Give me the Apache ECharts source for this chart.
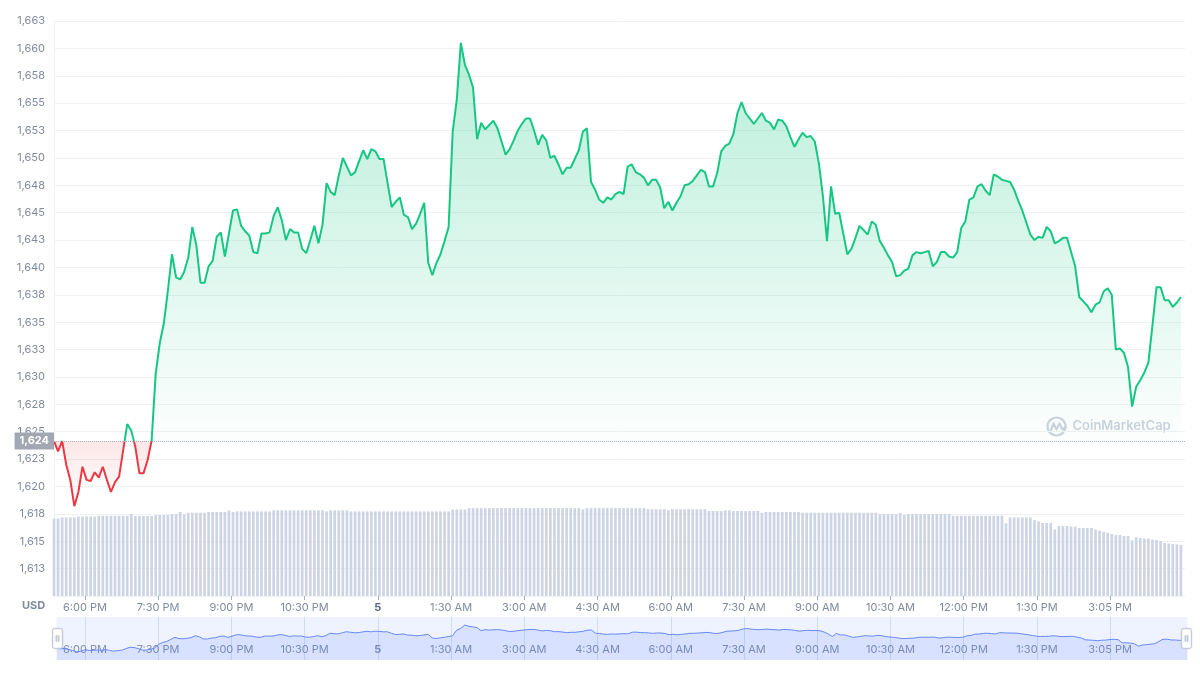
<!DOCTYPE html>
<html><head><meta charset="utf-8">
<script src="https://cdn.jsdelivr.net/npm/echarts@6/dist/echarts.min.js"></script>
<style>html,body{margin:0;padding:0;background:#fff}#c{width:1200px;height:675px}</style>
</head><body><div id="c"></div>
<script>
// time of first point, minutes after midnight of day 4 (5:22 PM), 5-minute samples
const startMinute = 1042;
const stepMinutes = 5;

// ETH price in USD
const prices = [
1624.15,1623.2,1624.15,1622.0,1620.6,1618.2,1619.5,1621.8,1620.6,1620.5,
1621.3,1620.8,1621.8,1620.6,1619.5,1620.4,1620.9,1623.3,1625.7,1625.1,
1623.6,1621.2,1621.2,1622.4,1624.2,1630.3,1633.1,1634.9,1637.9,1641.2,
1639.1,1638.9,1639.6,1640.9,1643.7,1642.0,1638.6,1638.6,1640.1,1640.6,
1642.8,1643.2,1641.0,1643.1,1645.2,1645.3,1643.8,1643.3,1642.9,1641.4,
1641.3,1643.1,1643.1,1643.2,1644.7,1645.5,1644.3,1642.5,1643.5,1643.2,
1643.2,1641.7,1641.3,1642.5,1643.8,1642.2,1643.9,1647.7,1646.9,1646.6,
1648.4,1650.0,1649.2,1648.4,1648.7,1649.7,1650.7,1649.9,1650.8,1650.6,
1649.9,1649.9,1647.7,1645.5,1646.0,1646.4,1644.8,1644.6,1643.5,1644.0,
1644.9,1645.9,1640.4,1639.3,1640.4,1641.2,1642.4,1643.7,1652.4,1655.3,
1660.5,1658.5,1657.6,1656.4,1651.7,1653.2,1652.6,1653.0,1653.4,1652.7,
1651.5,1650.3,1650.8,1651.6,1652.5,1653.1,1653.6,1653.6,1652.5,1651.2,
1652.1,1651.6,1650.0,1650.2,1649.4,1648.5,1649.1,1649.1,1649.9,1650.7,
1652.4,1652.7,1647.8,1647.1,1646.2,1645.9,1646.4,1646.2,1646.7,1646.9,
1646.7,1649.2,1649.4,1648.7,1648.5,1648.2,1647.5,1648.0,1648.0,1647.3,
1645.4,1646.0,1645.2,1645.9,1646.5,1647.5,1647.6,1647.9,1648.4,1648.9,
1648.7,1647.4,1647.4,1648.6,1650.6,1651.1,1651.3,1652.2,1654.1,1655.1,
1654.1,1653.6,1653.1,1653.6,1654.1,1653.4,1653.2,1652.6,1653.5,1653.4,
1652.9,1651.9,1651.0,1651.7,1652.3,1651.9,1652.0,1651.5,1649.5,1646.5,
1642.4,1647.4,1644.9,1645.0,1643.1,1641.2,1641.7,1642.7,1643.8,1643.4,
1643.0,1644.2,1643.9,1642.4,1641.8,1641.1,1640.5,1639.2,1639.3,1639.7,
1639.9,1641.1,1641.4,1641.3,1641.4,1641.5,1640.1,1640.5,1641.4,1641.4,
1641.0,1640.9,1641.4,1643.6,1644.2,1646.2,1646.4,1647.4,1647.6,1647.0,
1646.6,1648.5,1648.3,1648.0,1647.9,1647.8,1647.1,1646.1,1645.2,1644.1,
1643.0,1642.5,1642.8,1642.7,1643.7,1643.3,1642.2,1642.4,1642.7,1642.7,
1641.4,1640.1,1637.3,1636.9,1636.5,1635.9,1636.6,1636.8,1637.8,1638.1,
1637.5,1632.5,1632.6,1632.2,1630.9,1627.3,1629.1,1629.7,1630.4,1631.3,
1634.7,1638.2,1638.2,1637.0,1637.0,1636.4,1636.8,1637.3
];

// 24h volume, billions USD
const volumes = [
16.15,16.15,16.38,16.38,16.38,16.38,16.59,16.59,16.59,16.59,
16.59,16.76,16.76,16.76,16.76,16.76,16.76,16.76,16.76,17.11,
16.69,16.69,16.69,16.69,16.69,16.90,16.90,16.90,16.90,17.11,
17.11,17.53,17.05,17.36,17.36,17.36,17.36,17.36,17.53,17.53,
17.53,17.53,17.53,17.82,17.53,17.65,17.65,17.65,17.65,17.65,
17.65,17.65,17.65,17.65,17.88,17.88,17.88,17.88,17.88,17.88,
17.88,17.88,17.88,17.88,17.88,17.88,17.88,17.65,17.88,17.88,
17.88,17.88,17.88,17.65,17.65,17.65,17.65,17.65,17.65,17.65,
17.65,17.65,17.65,17.65,17.65,17.65,17.65,17.65,17.65,17.65,
17.65,17.65,17.65,17.65,17.65,17.65,17.65,17.65,18.05,18.05,
18.05,18.05,18.34,18.34,18.34,18.34,18.34,18.34,18.34,18.34,
18.34,18.34,18.34,18.34,18.34,18.34,18.34,18.34,18.34,18.34,
18.34,18.34,18.34,18.34,18.34,18.34,18.34,18.34,18.34,18.34,
18.05,18.34,18.34,18.34,18.34,18.34,18.34,18.34,18.34,18.34,
18.34,18.34,18.34,18.34,18.34,18.34,18.11,18.11,18.11,18.11,
18.11,17.88,18.11,18.11,18.11,18.11,18.11,18.11,18.11,18.11,
18.11,17.74,17.74,17.74,17.74,17.88,17.88,17.74,17.74,17.74,
17.74,17.74,17.74,17.74,17.36,17.53,17.53,17.53,17.53,17.53,
17.53,17.53,17.53,17.53,17.36,17.36,17.36,17.36,17.36,17.36,
17.36,17.36,17.36,17.36,17.36,17.36,17.36,17.36,17.36,17.36,
17.36,17.36,17.36,17.11,17.11,17.11,17.11,17.11,17.36,16.90,
17.11,17.11,17.11,17.11,17.11,17.11,17.11,17.11,17.11,17.11,
17.11,16.76,16.76,16.76,16.76,16.76,16.76,16.76,16.76,16.76,
16.76,16.76,16.76,16.76,15.15,16.38,16.38,16.38,16.38,16.38,
16.38,15.86,15.55,15.23,15.23,15.23,13.88,14.61,14.61,14.61,
14.48,14.48,14.19,14.19,14.19,14.19,13.88,13.65,13.42,13.19,
12.94,12.73,12.73,12.52,12.52,11.58,12.27,12.10,11.98,11.98,
11.75,11.69,11.48,11.06,10.96,10.85,10.75,10.64
];

// x-axis ticks (minutes after midnight of day 4) and their labels
const tickMinutes = [1080,1170,1260,1350,1440,1530,1620,1710,1800,1890,1980,2070,2160,2250,2340];
const tickLabels = ['6:00 PM','7:30 PM','9:00 PM','10:30 PM','5','1:30 AM','3:00 AM','4:30 AM','6:00 AM','7:30 AM','9:00 AM','10:30 AM','12:00 PM','1:30 PM','3:05 PM'];

// price axis
const priceAxisMin = 1610, priceAxisMax = 1662.5, priceAxisStep = 2.5;
const volumeAxisMax = 120;

const openPrice = prices[0];
const times = prices.map((_, i) => startMinute + i * stepMinutes);
const priceData = prices.map((p, i) => [times[i], p]);
const volumeData = volumes.map((v, i) => [times[i], v]);
const xMin = times[0];
const xMax = times[times.length - 1] + stepMinutes;

const labelMap = {};
tickMinutes.forEach((m, i) => { labelMap[m] = tickLabels[i]; });
const fmtTime = v => {
  const s = labelMap[v];
  if (s == null) return '';
  return s.indexOf(':') < 0 ? '{d|' + s + '}' : s;
};

const FONT = 'Inter, "Noto Sans", sans-serif';
const GRID_TOP = 21, GRID_BOTTOM_Y = 596;
const yOf = v => GRID_TOP + (priceAxisMax - v) / (priceAxisMax - priceAxisMin) * (GRID_BOTTOM_Y - GRID_TOP);
const off = y => (y - GRID_TOP) / (GRID_BOTTOM_Y - GRID_TOP);
const baseOff = off(yOf(openPrice));
const redEndOff = Math.min(1, off(yOf(Math.min(...prices))) + 0.01);

const areaGradient = {
  type: 'linear', x: 0, y: GRID_TOP, x2: 0, y2: GRID_BOTTOM_Y, global: true,
  colorStops: [
    { offset: 0, color: 'rgba(22,199,132,0.32)' },
    { offset: baseOff - 0.001, color: 'rgba(22,199,132,0.01)' },
    { offset: baseOff, color: 'rgba(234,57,67,0.12)' },
    { offset: redEndOff, color: 'rgba(234,57,67,0.0)' },
    { offset: 1, color: 'rgba(234,57,67,0.0)' }
  ]
};

const chart = echarts.init(document.getElementById('c'), null, { renderer: 'canvas' });
chart.setOption({
  animation: false,
  backgroundColor: '#ffffff',
  textStyle: { fontFamily: FONT },
  grid: [
    { left: 54, right: 15, top: GRID_TOP, bottom: 675 - GRID_BOTTOM_Y },
    { left: 54, right: 15, top: 617, height: 43 }
  ],
  xAxis: [
    {
      type: 'value', gridIndex: 0, min: xMin, max: xMax,
      axisLine: { show: false },
      axisTick: { show: true, customValues: tickMinutes, length: 4, lineStyle: { color: '#a6b0c3' } },
      axisLabel: {
        customValues: tickMinutes, formatter: fmtTime, color: '#808a9d', fontSize: 11, margin: 6,
        fontFamily: FONT, rich: { d: { fontWeight: 'bold', color: '#58667e', fontSize: 11, fontFamily: FONT } }
      },
      splitLine: { show: false }
    },
    {
      type: 'value', gridIndex: 1, min: xMin, max: xMax,
      axisLine: { show: false },
      axisTick: { show: false, customValues: tickMinutes },
      axisLabel: {
        inside: true, customValues: tickMinutes, formatter: fmtTime, color: '#8b94a8', fontSize: 11, margin: 5,
        fontFamily: FONT, rich: { d: { fontWeight: 'bold', color: '#8b94a8', fontSize: 11, fontFamily: FONT } }
      },
      splitLine: { show: true, lineStyle: { color: '#dfe5f8' } }
    }
  ],
  yAxis: [
    {
      type: 'value', gridIndex: 0, min: priceAxisMin, max: priceAxisMax, interval: priceAxisStep,
      axisLine: { show: true, lineStyle: { color: '#eff2f5' } },
      axisTick: { show: false },
      axisLabel: {
        color: '#808a9d', fontSize: 11, margin: 9, showMinLabel: false, fontFamily: FONT,
        formatter: v => Math.round(v).toLocaleString('en-US')
      },
      splitLine: { lineStyle: { color: '#eff2f5' } }
    },
    { type: 'value', gridIndex: 0, min: 0, max: volumeAxisMax, show: false, splitLine: { show: false } },
    { type: 'value', gridIndex: 1, min: 0, max: 1, show: false, splitLine: { show: false } }
  ],
  visualMap: {
    show: false, type: 'piecewise', seriesIndex: 0, dimension: 1,
    pieces: [
      { gt: openPrice, lte: priceAxisMax + 100, color: '#16c784' },
      { gt: priceAxisMin - 100, lte: openPrice, color: '#ea3943' }
    ]
  },
  dataZoom: [{
    type: 'slider', xAxisIndex: 0, left: 54, right: 15, top: 617, height: 43,
    start: 0, end: 100, filterMode: 'none',
    showDetail: false, brushSelect: false, moveHandleSize: 0, zoomLock: false,
    backgroundColor: 'rgba(0,0,0,0)', borderColor: 'transparent',
    fillerColor: 'rgba(56,97,251,0.08)',
    dataBackground: {
      lineStyle: { color: '#6b8cf7', width: 1, opacity: 1 },
      areaStyle: { color: 'rgba(56,97,251,0.12)', opacity: 1 }
    },
    selectedDataBackground: {
      lineStyle: { color: '#6b8cf7', width: 1, opacity: 1 },
      areaStyle: { color: 'rgba(56,97,251,0.12)', opacity: 1 }
    },
    handleIcon: 'path://M2,0L8,0Q10,0,10,2L10,18Q10,20,8,20L2,20Q0,20,0,18L0,2Q0,0,2,0Z M3.6,7L4.2,7L4.2,13L3.6,13Z M5.8,7L6.4,7L6.4,13L5.8,13Z',
    handleSize: '46%',
    handleStyle: { color: '#ffffff', borderColor: '#c3c9d6', borderWidth: 1, shadowBlur: 2, shadowColor: 'rgba(0,0,0,0.12)' },
    emphasis: { handleStyle: { color: '#ffffff', borderColor: '#c3c9d6' } },
    textStyle: { color: 'transparent' }
  }],
  graphic: [
    {
      type: 'text', left: 22, top: 600, z: 10,
      style: { text: 'USD', fill: '#808a9d', font: 'bold 11px ' + FONT }
    },
    {
      type: 'group', left: 1045, top: 415, z: 0, silent: true,
      children: [
        { type: 'circle', shape: { cx: 10, cy: 10, r: 9 }, style: { fill: 'none', stroke: '#cdd2de', lineWidth: 2.2 } },
        { type: 'polyline', shape: { points: [[4, 15], [7, 7], [10, 13], [13, 7], [16, 13], [20, 10]] }, style: { fill: 'none', stroke: '#cdd2de', lineWidth: 2.2, lineJoin: 'round' } },
        { type: 'text', x: 26, y: 10, style: { text: 'CoinMarketCap', fill: '#cdd2de', font: '600 13px ' + FONT, verticalAlign: 'middle' } }
      ]
    }
  ],
  series: [
    {
      name: 'Price', type: 'line', xAxisIndex: 0, yAxisIndex: 0, data: priceData,
      showSymbol: false, symbol: 'none', z: 3,
      lineStyle: { width: 2 },
      areaStyle: { origin: openPrice, color: areaGradient, opacity: 1 },
      markLine: {
        silent: true, symbol: 'none', animation: false,
        lineStyle: { type: 'dotted', color: '#a6b0c3', width: 1 },
        label: {
          show: true, position: 'start', distance: 0,
          formatter: () => Math.round(openPrice).toLocaleString('en-US'),
          color: '#ffffff', fontWeight: 'bold', fontSize: 11, fontFamily: FONT,
          backgroundColor: '#a1a7b3', padding: [3, 5, 3, 5]
        },
        data: [{ yAxis: openPrice }]
      }
    },
    {
      name: 'Volume', type: 'bar', xAxisIndex: 0, yAxisIndex: 1, data: volumeData,
      barWidth: 2.7, z: 1, itemStyle: { color: '#cdd4e3' }, silent: true
    }
  ]
});
</script>
</body></html>
